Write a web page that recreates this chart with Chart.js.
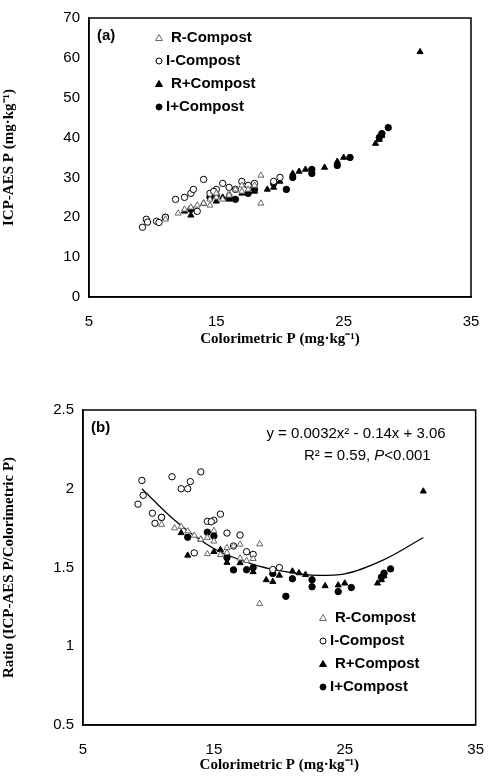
<!DOCTYPE html>
<html>
<head>
<meta charset="utf-8">
<script src="https://cdn.jsdelivr.net/npm/chart.js@4.4.0/dist/chart.umd.min.js"></script>
<style>
  body { margin: 0; background: #fff; }
  .box { position: absolute; left: 0; width: 494px; }
</style>
</head>
<body>
<div class="box" style="top:0;height:352px"><canvas id="chartA"></canvas></div>
<div class="box" style="top:390px;height:388px"><canvas id="chartB"></canvas></div>
<script>
// colorimetric P / ICP-AES P pairs
const rMinusX = [11, 12.5, 13, 14, 14.5, 15, 15, 16, 16.5, 17, 17.5, 18, 18.5, 18.5, 14.5, 12, 13.5, 17, 16, 15.5];
const rMinusY = [19.5, 22, 22.5, 23.5, 24.5, 25, 26, 26, 27, 28, 27, 28, 30.5, 23.5, 23, 21, 23, 26.5, 25.5, 24.5];
const iMinusX = [9.2, 9.5, 9.6, 10.3, 10.5, 11, 11.8, 12.5, 13, 13.2, 14, 13.5, 14.5, 15, 15.5, 16, 17, 17.5, 18, 19.5, 20, 16.5, 14.8];
const iMinusY = [17.5, 19.5, 18.8, 19, 18.7, 20, 24.5, 25, 26, 27, 29.5, 21.5, 26, 27, 28.5, 27.5, 29, 28, 28.5, 29, 30, 27, 26.5];
const rPlusX = [12.5, 13, 14, 15, 15.5, 16, 17, 18, 19, 19.5, 21, 21.5, 22, 23.5, 24.5, 25, 27.5, 27.8, 28, 31, 20];
const rPlusY = [21.5, 20.5, 23.5, 24, 25, 24.5, 26, 26.5, 27, 27.5, 31, 31.5, 32, 32.5, 34, 35, 38.5, 39.5, 40.5, 61.5, 29];
const iPlusX = [11, 13, 14.5, 15, 16.5, 17.5, 18, 19.5, 20.5, 21, 22.5, 22.5, 24.5, 25.5, 27.8, 28, 28.5, 16];
const iPlusY = [20, 22, 25, 25.5, 24.5, 26, 27, 28.5, 27, 30, 31, 32, 33, 35, 40, 41, 42.5, 25];

// fitted curve in panel (b)
const fitX = [9.5, 12, 15, 18, 20, 23, 25, 28, 31];
const fitY = [2.0, 1.8, 1.62, 1.52, 1.48, 1.45, 1.46, 1.55, 1.69];

const seriesNames = ['R-Compost', 'I-Compost', 'R+Compost', 'I+Compost'];
const xTicks = [5, 15, 25, 35];

function pts(xs, ys, ratio) {
  return xs.map((x, i) => ({ x: x, y: ratio ? ys[i] / x : ys[i] }));
}

function makeSets(ratio) {
  return [
    { label: seriesNames[0], data: pts(rMinusX, rMinusY, ratio), pointStyle: 'triangle', pointRadius: 3.5, backgroundColor: '#fff', borderColor: '#666', borderWidth: 1 },
    { label: seriesNames[1], data: pts(iMinusX, iMinusY, ratio), pointStyle: 'circle', pointRadius: 3.2, backgroundColor: '#fff', borderColor: '#000', borderWidth: 1 },
    { label: seriesNames[2], data: pts(rPlusX, rPlusY, ratio), pointStyle: 'triangle', pointRadius: 3.5, backgroundColor: '#000', borderColor: '#000', borderWidth: 1 },
    { label: seriesNames[3], data: pts(iPlusX, iPlusY, ratio), pointStyle: 'circle', pointRadius: 3.2, backgroundColor: '#000', borderColor: '#000', borderWidth: 1 }
  ];
}

// legend and labels drawn inside the plot area
const notes = {
  id: 'notes',
  afterDraw(chart, args, o) {
    const ctx = chart.ctx, a = chart.chartArea;
    ctx.save();
    ctx.fillStyle = '#000';
    ctx.textBaseline = 'middle';
    ctx.font = 'bold 15px "Liberation Sans", Arial';
    ctx.fillText(o.tag, a.left + 8, a.top + 18);
    const styles = chart.data.datasets;
    for (let i = 0; i < 4; i++) {
      const y = a.top + o.legY + i * 23;
      const ds = styles[i];
      ctx.beginPath();
      ctx.fillStyle = ds.backgroundColor;
      ctx.strokeStyle = ds.borderColor;
      ctx.lineWidth = 1;
      const mx = a.left + o.legX;
      if (ds.pointStyle === 'triangle') {
        ctx.moveTo(mx, y - 3.5); ctx.lineTo(mx + 3.5, y + 2.5); ctx.lineTo(mx - 3.5, y + 2.5); ctx.closePath();
      } else {
        ctx.arc(mx, y, 3, 0, Math.PI * 2);
      }
      ctx.fill(); ctx.stroke();
      ctx.fillStyle = '#000';
      ctx.fillText(seriesNames[i], mx + (i % 2 === 0 ? 12 : 7), y);
    }
    if (o.eq) {
      ctx.font = '15px "Liberation Sans", Arial';
      ctx.textAlign = 'right';
      ctx.fillText('y = 0.0032x² - 0.14x + 3.06', a.right - 30, a.top + 24);
      const right = a.right - 45;
      ctx.fillText('<0.001', right, a.top + 46);
      const w = ctx.measureText('<0.001').width;
      ctx.font = 'italic 15px "Liberation Sans", Arial';
      ctx.fillText('P', right - w, a.top + 46);
      const w2 = ctx.measureText('P').width;
      ctx.font = '15px "Liberation Sans", Arial';
      ctx.fillText('R² = 0.59, ', right - w - w2, a.top + 46);
    }
    ctx.restore();
  }
};

function options(cfg) {
  return {
    responsive: true,
    maintainAspectRatio: false,
    animation: false,
    layout: { padding: { top: cfg.top, right: cfg.right, left: 0, bottom: 0 } },
    plugins: { legend: { display: false }, tooltip: { enabled: false }, notes: cfg.notes },
    scales: {
      x: {
        type: 'linear', min: 5, max: 35,
        afterBuildTicks: s => { s.ticks = xTicks.map(v => ({ value: v })); },
        afterFit: s => { s.height = cfg.xh; },
        grid: { display: false, drawTicks: true, tickLength: 6, color: '#000' },
        border: { color: '#000', width: 1.5 },
        ticks: { color: '#000', font: { family: '"Liberation Sans", Arial', size: 15 }, padding: 10 },
        title: { display: true, text: 'Colorimetric P (mg·kg⁻¹)', color: '#000', padding: { top: 0 },
                 font: { family: '"Liberation Serif", "Times New Roman"', size: 15, weight: 'bold' } }
      },
      y: {
        min: cfg.ymin, max: cfg.ymax,
        ticks: { stepSize: cfg.step, color: '#000', font: { family: '"Liberation Sans", Arial', size: 15 }, padding: 4,
                 callback: v => String(Math.round(v * 10) / 10) },
        afterFit: s => { s.width = cfg.yw; },
        grid: { display: false, drawTicks: true, tickLength: 5, color: '#000' },
        border: { color: '#000', width: 1.5 },
        title: { display: true, text: cfg.ytitle, color: '#000', padding: 0,
                 font: { family: '"Liberation Serif", "Times New Roman"', size: 15, weight: 'bold' } }
      }
    }
  };
}

// box around plot area
const frame = {
  id: 'frame',
  afterDraw(chart) {
    const ctx = chart.ctx, a = chart.chartArea;
    ctx.save();
    ctx.strokeStyle = '#000';
    ctx.lineWidth = 1.5;
    ctx.strokeRect(a.left, a.top, a.right - a.left, a.bottom - a.top);
    ctx.restore();
  }
};

new Chart(document.getElementById('chartA'), {
  type: 'scatter',
  data: { datasets: makeSets(false) },
  options: options({ top: 18, right: 23, xh: 55, yw: 89, ymin: 0, ymax: 70, step: 10,
    ytitle: 'ICP-AES P (mg·kg⁻¹)', notes: { tag: '(a)', legX: 70, legY: 20, eq: false } }),
  plugins: [notes, frame]
});

const setsB = makeSets(true);
setsB.push({ type: 'line', label: 'fit', data: pts(fitX, fitY, false), borderColor: '#000', borderWidth: 1.2,
             pointRadius: 0, tension: 0.4, fill: false, cubicInterpolationMode: 'monotone' });

new Chart(document.getElementById('chartB'), {
  type: 'scatter',
  data: { datasets: setsB },
  options: options({ top: 20, right: 16, xh: 53, yw: 83, ymin: 0.5, ymax: 2.5, step: 0.5,
    ytitle: 'Ratio (ICP-AES P/Colorimetric P)', notes: { tag: '(b)', legX: 240, legY: 208, eq: true } }),
  plugins: [notes, frame]
});
</script>
</body>
</html>
